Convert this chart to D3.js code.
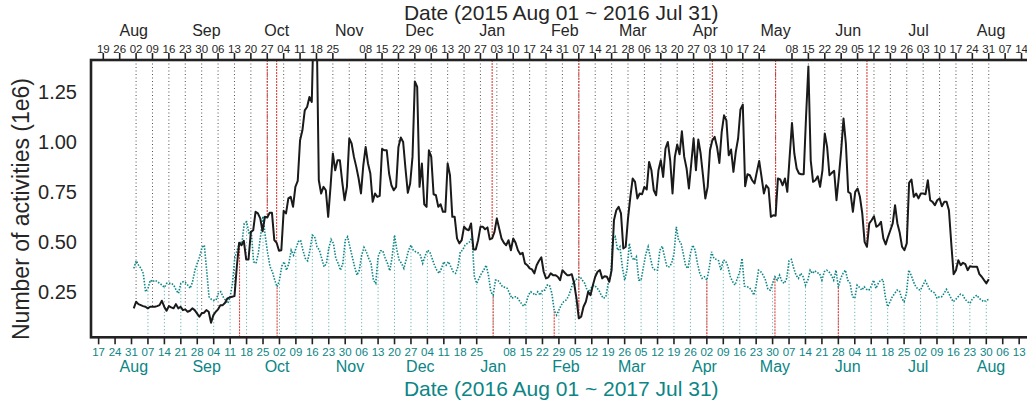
<!DOCTYPE html>
<html><head><meta charset="utf-8">
<script src="https://cdn.jsdelivr.net/npm/d3@7"></script>
<style>body{margin:0;background:#fff} text{font-family:"Liberation Sans",Arial,sans-serif}</style>
</head><body><svg id="c" width="1027" height="407"></svg>
<script>
// ---------------- data ----------------
const topStart = "2015-08-01";     // first day of the black series
const bottomStart = "2016-08-01";  // first day of the teal series
const activities2015 = [
0.167,0.200,0.188,0.183,0.178,0.175,0.167,0.175,0.175,0.175,
0.178,0.183,0.205,0.175,0.155,0.178,0.172,0.167,0.188,0.167,
0.175,0.158,0.162,0.150,0.155,0.167,0.158,0.142,0.125,0.142,
0.145,0.158,0.150,0.095,0.133,0.150,0.162,0.183,0.183,0.195,
0.217,0.222,0.225,0.228,0.375,0.495,0.483,0.505,0.412,0.412,
0.550,0.558,0.650,0.642,0.617,0.553,0.625,0.622,0.645,0.645,
0.508,0.495,0.455,0.458,0.655,0.642,0.717,0.725,0.675,0.775,
0.805,1.008,1.058,1.158,1.175,1.225,1.200,1.700,1.650,0.808,
0.742,0.775,0.758,0.625,0.775,0.942,0.858,0.908,0.908,0.800,
0.708,0.775,1.017,0.992,0.925,0.875,0.817,0.742,0.883,0.975,
0.892,0.842,0.700,0.742,0.725,0.730,0.965,0.958,0.958,0.842,
0.783,0.758,0.775,0.975,1.022,1.000,0.867,0.745,0.792,0.925,
1.303,1.275,0.775,0.892,0.688,0.675,0.958,0.925,0.738,0.733,
0.675,0.688,0.650,0.650,0.892,0.833,0.625,0.625,0.517,0.492,
0.508,0.575,0.563,0.558,0.592,0.462,0.462,0.508,0.575,0.575,
0.563,0.572,0.512,0.517,0.550,0.617,0.567,0.517,0.495,0.483,
0.508,0.458,0.517,0.495,0.458,0.438,0.445,0.392,0.383,0.367,
0.362,0.342,0.383,0.405,0.422,0.350,0.317,0.322,0.342,0.333,
0.333,0.325,0.308,0.358,0.345,0.333,0.333,0.338,0.292,0.217,
0.117,0.125,0.175,0.200,0.250,0.233,0.283,0.325,0.350,0.358,
0.317,0.328,0.325,0.300,0.358,0.608,0.658,0.675,0.642,0.467,
0.475,0.617,0.725,0.817,0.800,0.717,0.742,0.738,0.775,0.762,
0.900,0.858,0.758,0.733,0.858,0.908,0.825,0.967,1.000,0.908,
0.742,0.925,0.987,0.938,1.053,0.925,0.867,0.767,0.892,1.017,
0.858,1.012,0.942,0.833,0.717,0.775,0.958,1.008,1.025,0.975,
0.895,1.050,1.133,1.108,0.933,0.962,0.850,0.950,1.017,1.162,
1.187,0.778,0.838,0.833,0.808,0.792,0.850,0.905,0.825,0.742,
0.783,0.767,0.625,0.633,0.630,0.817,0.812,0.783,0.817,0.750,
0.925,1.095,0.942,0.867,0.842,0.838,0.838,1.125,1.378,0.908,
0.800,0.808,0.828,0.775,0.858,1.042,0.975,0.833,0.845,0.855,
0.708,0.825,0.958,1.117,0.992,0.750,0.742,0.650,0.750,0.767,
0.725,0.642,0.500,0.475,0.592,0.608,0.628,0.575,0.583,0.600,
0.517,0.487,0.525,0.558,0.592,0.683,0.592,0.545,0.475,0.458,
0.492,0.795,0.812,0.725,0.742,0.717,0.742,0.742,0.738,0.808,
0.708,0.700,0.683,0.708,0.717,0.678,0.700,0.700,0.658,0.492,
0.338,0.358,0.408,0.383,0.395,0.388,0.358,0.378,0.375,0.375,
0.375,0.338,0.325,0.308,0.292,0.312
];
const activities2016 = [
0.367,0.405,0.383,0.367,0.342,0.250,0.267,0.308,0.300,0.308,
0.300,0.292,0.283,0.272,0.292,0.292,0.292,0.283,0.258,0.242,
0.292,0.300,0.295,0.283,0.267,0.300,0.358,0.392,0.425,0.472,
0.483,0.358,0.225,0.212,0.208,0.208,0.242,0.250,0.225,0.208,
0.192,0.225,0.292,0.422,0.458,0.500,0.492,0.592,0.600,0.545,
0.550,0.400,0.392,0.442,0.533,0.628,0.525,0.442,0.375,0.350,
0.308,0.275,0.308,0.378,0.400,0.358,0.392,0.458,0.433,0.467,
0.500,0.508,0.458,0.417,0.405,0.458,0.533,0.525,0.475,0.458,
0.417,0.375,0.392,0.467,0.512,0.492,0.417,0.392,0.358,0.392,
0.508,0.525,0.475,0.425,0.375,0.333,0.358,0.433,0.472,0.450,
0.417,0.392,0.308,0.292,0.425,0.455,0.455,0.420,0.392,0.355,
0.425,0.533,0.458,0.408,0.392,0.367,0.412,0.458,0.483,0.458,
0.450,0.445,0.433,0.392,0.428,0.458,0.450,0.417,0.383,0.358,
0.342,0.367,0.400,0.383,0.400,0.375,0.350,0.342,0.375,0.450,
0.458,0.483,0.492,0.500,0.525,0.325,0.292,0.317,0.342,0.358,
0.383,0.333,0.250,0.233,0.308,0.308,0.292,0.275,0.272,0.267,
0.242,0.217,0.225,0.225,0.208,0.192,0.178,0.192,0.233,0.250,
0.242,0.233,0.250,0.233,0.258,0.258,0.283,0.283,0.242,0.158,
0.133,0.158,0.183,0.200,0.208,0.225,0.258,0.295,0.308,0.317,
0.325,0.308,0.292,0.258,0.250,0.275,0.283,0.272,0.258,0.233,
0.217,0.225,0.292,0.325,0.508,0.525,0.458,0.475,0.375,0.308,
0.358,0.492,0.425,0.408,0.425,0.308,0.308,0.375,0.438,0.475,
0.417,0.367,0.358,0.358,0.458,0.478,0.425,0.375,0.375,0.392,
0.440,0.575,0.505,0.495,0.438,0.378,0.367,0.442,0.483,0.458,
0.392,0.342,0.317,0.325,0.308,0.367,0.450,0.417,0.412,0.405,
0.358,0.408,0.405,0.375,0.325,0.300,0.283,0.317,0.350,0.417,
0.278,0.275,0.272,0.258,0.233,0.283,0.358,0.350,0.333,0.308,
0.262,0.258,0.292,0.325,0.308,0.333,0.300,0.292,0.317,0.405,
0.412,0.367,0.333,0.317,0.342,0.325,0.283,0.308,0.358,0.342,
0.355,0.345,0.342,0.308,0.350,0.358,0.350,0.333,0.308,0.358,
0.272,0.317,0.342,0.358,0.308,0.292,0.225,0.217,0.283,0.272,
0.258,0.275,0.262,0.258,0.278,0.308,0.267,0.292,0.308,0.312,
0.225,0.175,0.200,0.225,0.242,0.258,0.255,0.217,0.200,0.242,
0.358,0.333,0.300,0.275,0.262,0.258,0.283,0.305,0.283,0.258,
0.250,0.245,0.217,0.225,0.225,0.242,0.262,0.242,0.217,0.200,
0.212,0.225,0.238,0.233,0.212,0.200,0.192,0.212,0.225,0.233,
0.217,0.208,0.200,0.208,0.212
];
const holidays2015 = ["2015-09-27","2015-10-01","2016-01-01","2016-02-07","2016-04-04","2016-05-01","2016-06-09"];
const holidays2016 = ["2016-09-15","2016-10-01","2017-01-01","2017-01-27","2017-04-02","2017-05-01","2017-05-28"];
const yTicks = [0.25, 0.50, 0.75, 1.00, 1.25];
const topTitle = "Date (2015 Aug 01 ~ 2016 Jul 31)";
const bottomTitle = "Date (2016 Aug 01 ~ 2017 Jul 31)";
const yTitle = "Number of activities (1e6)";

// ---------------- layout ----------------
const L = 91, R = 1031.5, T = 60, B = 337.3;
const DARK = "#262626", TEAL = "#0b8585", RED = "#e0413a";
const DAY = 864e5, PAD = 18.25 * DAY;
const parse = d3.utcParse("%Y-%m-%d");
const svg = d3.select("#c");

function series(startStr, vals) {
  const s = parse(startStr);
  return vals.map((v, i) => ({ date: d3.utcDay.offset(s, i), v }));
}
const topData = series(topStart, activities2015);
const botData = series(bottomStart, activities2016);

const xTop = d3.scaleUtc()
  .domain([new Date(+topData[0].date - PAD), new Date(+topData[topData.length - 1].date + PAD)])
  .range([L, R]);
const xBot = d3.scaleUtc()
  .domain([new Date(+botData[0].date - PAD), new Date(+botData[botData.length - 1].date + PAD)])
  .range([L, R]);
const y = d3.scaleLinear().domain([0.022, 1.41]).range([B, T]);

svg.append("defs").append("clipPath").attr("id", "clip")
  .append("rect").attr("x", L).attr("y", T).attr("width", R - L).attr("height", B - T);
const plot = svg.append("g").attr("clip-path", "url(#clip)");

const keyOf = d3.utcFormat("%Y-%m-%d");
const topMap = new Map(topData.map(d => [keyOf(d.date), d.v]));
const botMap = new Map(botData.map(d => [keyOf(d.date), d.v]));

// weekly dotted guide lines
const topSundays = d3.utcSunday.range(topData[0].date, d3.utcDay.offset(topData[topData.length - 1].date, 1));
plot.selectAll(".wt").data(topSundays).join("line")
  .attr("x1", d => xTop(d)).attr("x2", d => xTop(d))
  .attr("y1", T).attr("y2", d => y(topMap.get(keyOf(d))))
  .attr("stroke", "#333").attr("stroke-width", 1).attr("stroke-dasharray", "1,2.5").attr("opacity", 0.85);
const botSundays = d3.utcSunday.range(botData[0].date, d3.utcDay.offset(botData[botData.length - 1].date, 1));
plot.selectAll(".wb").data(botSundays).join("line")
  .attr("x1", d => xBot(d)).attr("x2", d => xBot(d))
  .attr("y1", B).attr("y2", d => y(botMap.get(keyOf(d))))
  .attr("stroke", TEAL).attr("stroke-width", 1).attr("stroke-dasharray", "1,2.5").attr("opacity", 0.75);

// holiday red lines
plot.selectAll(".ht").data(holidays2015.map(parse)).join("line")
  .attr("x1", d => xTop(d)).attr("x2", d => xTop(d))
  .attr("y1", T).attr("y2", d => y(topMap.get(keyOf(d))))
  .attr("stroke", RED).attr("stroke-width", 1.1).attr("stroke-dasharray", "2,1");
plot.selectAll(".hb").data(holidays2016.map(parse)).join("line")
  .attr("x1", d => xBot(d)).attr("x2", d => xBot(d))
  .attr("y1", B).attr("y2", d => y(botMap.get(keyOf(d))))
  .attr("stroke", RED).attr("stroke-width", 1.1).attr("stroke-dasharray", "2,1");

// series
plot.append("path").datum(botData)
  .attr("d", d3.line().x(d => xBot(d.date)).y(d => y(d.v)))
  .attr("fill", "none").attr("stroke", TEAL).attr("stroke-width", 1.6).attr("stroke-dasharray", "1.5,1.5");
plot.append("path").datum(topData)
  .attr("d", d3.line().x(d => xTop(d.date)).y(d => y(d.v)))
  .attr("fill", "none").attr("stroke", "#1a1a1a").attr("stroke-width", 2).attr("stroke-linejoin", "round");

// frame
svg.append("rect").attr("x", L).attr("y", T).attr("width", R - L).attr("height", B - T)
  .attr("fill", "none").attr("stroke", "#222").attr("stroke-width", 2.6);

// y axis labels
svg.selectAll(".yl").data(yTicks).join("text")
  .attr("x", 77).attr("y", d => y(d)).attr("dy", "0.35em").attr("text-anchor", "end")
  .attr("font-size", 20).attr("fill", DARK).text(d => d3.format(".2f")(d));
svg.append("text").attr("transform", "translate(29,209) rotate(-90)")
  .attr("text-anchor", "middle").attr("font-size", 23).attr("fill", DARK).text(yTitle);

// top axis
const fmtDay = d3.utcFormat("%d"), fmtMon = d3.utcFormat("%b");
const topWeeks = d3.utcSunday.range(xTop.domain()[0], xTop.domain()[1]).filter(d => d.getUTCDate() !== 1);
const gt = svg.append("g");
gt.selectAll("line").data(topWeeks).join("line")
  .attr("x1", d => xTop(d)).attr("x2", d => xTop(d)).attr("y1", T).attr("y2", T - 7)
  .attr("stroke", "#222").attr("stroke-width", 1.6);
gt.selectAll("text").data(topWeeks).join("text")
  .attr("x", d => xTop(d)).attr("y", T - 7.5).attr("text-anchor", "middle")
  .attr("font-size", 11.5).attr("fill", DARK).text(d => fmtDay(d));
svg.selectAll(".mt").data(d3.utcMonth.range(xTop.domain()[0], xTop.domain()[1])).join("text")
  .attr("x", d => xTop(d)).attr("y", 35.5).attr("text-anchor", "middle")
  .attr("font-size", 16).attr("fill", DARK).text(d => fmtMon(d));
svg.append("text").attr("x", (L + R) / 2).attr("y", 19.5).attr("text-anchor", "middle")
  .attr("font-size", 21).attr("fill", DARK).text(topTitle);

// bottom axis
const botWeeks = d3.utcSunday.range(xBot.domain()[0], xBot.domain()[1]).filter(d => d.getUTCDate() !== 1);
const gb = svg.append("g");
gb.selectAll("line").data(botWeeks).join("line")
  .attr("x1", d => xBot(d)).attr("x2", d => xBot(d)).attr("y1", B).attr("y2", B + 7)
  .attr("stroke", "#222").attr("stroke-width", 1.6);
gb.selectAll("text").data(botWeeks).join("text")
  .attr("x", d => xBot(d)).attr("y", 355.5).attr("text-anchor", "middle")
  .attr("font-size", 11.5).attr("fill", TEAL).text(d => fmtDay(d));
svg.selectAll(".mb").data(d3.utcMonth.range(xBot.domain()[0], xBot.domain()[1])).join("text")
  .attr("x", d => xBot(d)).attr("y", 372).attr("text-anchor", "middle")
  .attr("font-size", 16).attr("fill", TEAL).text(d => fmtMon(d));
svg.append("text").attr("x", (L + R) / 2).attr("y", 396).attr("text-anchor", "middle")
  .attr("font-size", 21).attr("fill", TEAL).text(bottomTitle);
</script></body></html>
